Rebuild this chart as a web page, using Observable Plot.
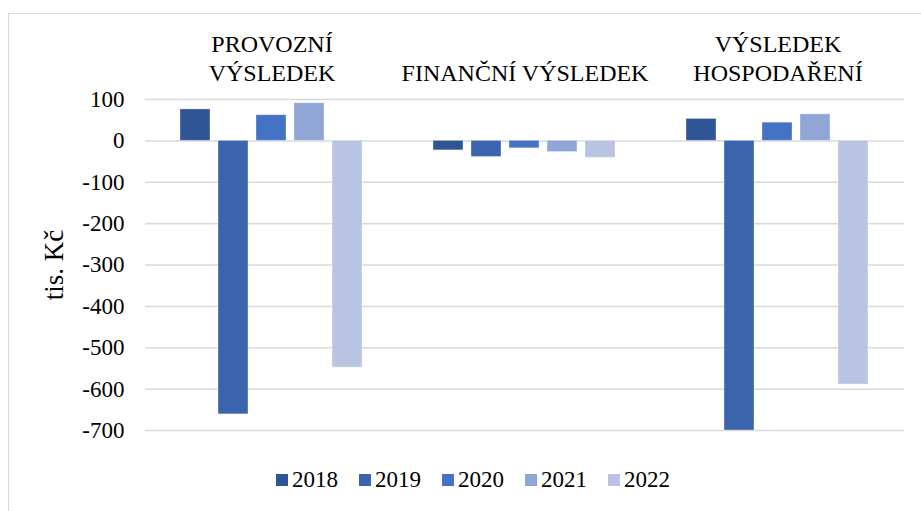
<!DOCTYPE html>
<html><head><meta charset="utf-8">
<script src="https://cdn.jsdelivr.net/npm/d3@7"></script>
<script src="https://cdn.jsdelivr.net/npm/@observablehq/plot@0.6"></script>
<style>
html,body{margin:0;padding:0;background:#fff;}
#wrap{position:relative;width:921px;height:511px;overflow:hidden;font-family:"Liberation Serif","Times New Roman",serif;}
#frame{position:absolute;left:8px;top:13px;width:2000px;height:2000px;border-top:1px solid #d9d9d9;border-left:1px solid #d9d9d9;}
#chart{position:absolute;left:0;top:0;}
#legend{position:absolute;left:276px;top:463px;}
#legend, #legend *{font-family:"Liberation Serif","Times New Roman",serif !important;font-size:23px !important;color:#000 !important;}
#legend .lg-swatch{margin-right:21px;}
#legend .lg-swatch > svg{margin-right:4px;}
</style></head><body>
<div id="wrap"><div id="frame"></div><div id="chart"></div><div id="legend"></div></div>
<script>
const categories = ["PROVOZNÍ\nVÝSLEDEK", "FINANČNÍ VÝSLEDEK", "VÝSLEDEK\nHOSPODAŘENÍ"];
const years = ["2018", "2019", "2020", "2021", "2022"];
const s2018 = [76, -23, 53];
const s2019 = [-661, -39, -700];
const s2020 = [62, -18, 44];
const s2021 = [91, -27, 64];
const s2022 = [-548, -41, -589];
const colors = ["#2F5597", "#3A64AD", "#4472C4", "#8FA5D6", "#B9C4E3"];
const yTicks = [100, 0, -100, -200, -300, -400, -500, -600, -700];
const yLabel = "tis. Kč";

const series = [s2018, s2019, s2020, s2021, s2022];
const data = [];
categories.forEach((c, i) => years.forEach((y, j) => data.push({cat: c, year: y, value: series[j][i]})));

const W = 921, H = 455, mL = 144, mR = 16;
const fw = (W - mL - mR) / categories.length;

const chart = Plot.plot({
  width: W, height: H,
  marginTop: 99, marginBottom: 25, marginLeft: mL, marginRight: mR,
  style: {fontFamily: '"Liberation Serif","Times New Roman",serif', color: "#000", background: "transparent", overflow: "visible"},
  fx: {domain: categories, padding: 0, label: null, axis: null},
  x: {domain: years, axis: null, paddingInner: 0.2, paddingOuter: 0.87},
  y: {domain: [-700, 100], label: null, axis: null},
  color: {domain: years, range: colors},
  marks: [
    Plot.gridY(yTicks, {stroke: "#d9d9d9", strokeOpacity: 1, strokeWidth: 1.5}),
    Plot.ruleX(categories, {fx: d => d, y1: 0, y2: -16, dx: -fw / 2, stroke: "#d9d9d9", strokeWidth: 1.5}),
    Plot.ruleX(categories.slice(-1), {fx: d => d, y1: 0, y2: -16, dx: fw / 2, stroke: "#d9d9d9", strokeWidth: 1.5}),
    Plot.barY(data, {fx: "cat", x: "year", y1: 0, y2: "value", fill: "year", stroke: "#fff", strokeOpacity: 0.35, strokeWidth: 1}),
    Plot.axisFx({anchor: "top", tickSize: 0, tickPadding: 19, fontSize: 24, lineHeight: 1.17, label: null}),
    Plot.axisY(yTicks, {anchor: "left", tickSize: 0, tickPadding: 21, fontSize: 23, label: null, tickFormat: d => String(d)}),
    Plot.axisY([], {anchor: "left", tickSize: 0, label: yLabel, labelAnchor: "center", labelArrow: "none", labelOffset: 102, fontSize: 27})
  ]
});
document.getElementById("chart").appendChild(chart);

const legend = Plot.legend({
  color: {domain: years, range: colors},
  legend: "swatches",
  swatchSize: 12,
  className: "lg"
});
document.getElementById("legend").appendChild(legend);
</script>
</body></html>
